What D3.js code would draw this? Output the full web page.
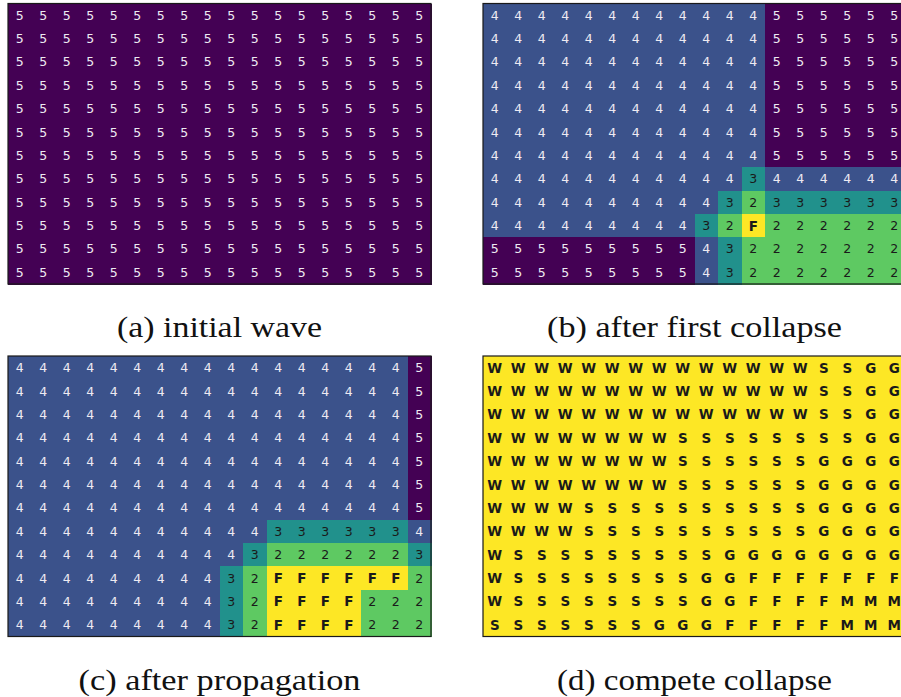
<!DOCTYPE html>
<html>
<head>
<meta charset="utf-8">
<script src="https://cdn.jsdelivr.net/npm/d3@7"></script>
<style>
  body { margin: 0; background: #fff; }
  svg { display: block; }
  .cap { font-family: "Liberation Serif", "Times New Roman", serif; fill: #111; }
</style>
</head>
<body>
<div id="chart"></div>
<script>
// wave states, one string per grid row (digits = entropy, letters = collapsed tile)
var gridInitial = [
  "555555555555555555", "555555555555555555", "555555555555555555",
  "555555555555555555", "555555555555555555", "555555555555555555",
  "555555555555555555", "555555555555555555", "555555555555555555",
  "555555555555555555", "555555555555555555", "555555555555555555"
];
var gridFirst = [
  "444444444444555555", "444444444444555555", "444444444444555555",
  "444444444444555555", "444444444444555555", "444444444444555555",
  "444444444444555555", "444444444443444444", "444444444432333333",
  "44444444432F222222", "555555555432222222", "555555555432222222"
];
var gridPropagated = [
  "444444444444444445", "444444444444444445", "444444444444444445",
  "444444444444444445", "444444444444444445", "444444444444444445",
  "444444444444444445", "444444444443333334", "444444444432222223",
  "44444444432FFFFFF2", "44444444432FFFF222", "44444444432FFFF222"
];
var gridComplete = [
  "WWWWWWWWWWWWWWSSGG", "WWWWWWWWWWWWWWSSGG", "WWWWWWWWWWWWWWSSGG",
  "WWWWWWWWSSSSSSSSGG", "WWWWWWWWSSSSSSGGGG", "WWWWWWWWSSSSSSGGGG",
  "WWWWSSSSSSSSSSGGGG", "WWWWSSSSSSSSSSGGGG", "WSSSSSSSSSGGGGGGGG",
  "WSSSSSSSSGGFFFFFFF", "WSSSSSSSSGGFFFFMMM", "SSSSSSSGGGFFFFFMMM"
];
var captions = ["(a) initial wave", "(b) after first collapse",
                "(c) after propagation", "(d) compete collapse"];

var W = 901, H = 697;
var panelW = 423, panelH = 280.5;
var panels = [
  {grid: gridInitial,    x: 8,   y: 3.5, capW: 205},
  {grid: gridFirst,      x: 483, y: 3.5, capW: 295},
  {grid: gridPropagated, x: 8,   y: 356, capW: 282},
  {grid: gridComplete,   x: 483, y: 356, capW: 275}
];

var svg = d3.select("#chart").append("svg")
    .attr("width", W)
    .attr("height", H);

// entropy colour: 5 -> dark purple, 1 (collapsed) -> yellow
var color = d3.scaleSequential(d3.interpolateViridis).domain([5, 1]);

function entropy(ch) {
  return /[0-9]/.test(ch) ? +ch : 1;
}

panels.forEach(function(p, k) {
  var cells = [];
  p.grid.forEach(function(row, r) {
    row.split("").forEach(function(ch, c) {
      cells.push({r: r, c: c, ch: ch, e: entropy(ch)});
    });
  });

  var x = d3.scaleBand().domain(d3.range(p.grid[0].length)).range([0, panelW]);
  var y = d3.scaleBand().domain(d3.range(p.grid.length)).range([0, panelH]);

  var g = svg.append("g")
      .attr("transform", "translate(" + p.x + "," + p.y + ")");

  g.selectAll("rect.cell")
    .data(cells)
    .enter().append("rect")
      .attr("class", "cell")
      .attr("x", function(d) { return x(d.c); })
      .attr("y", function(d) { return y(d.r); })
      .attr("width", x.bandwidth() + 0.5)
      .attr("height", y.bandwidth() + 0.5)
      .attr("shape-rendering", "crispEdges")
      .attr("fill", function(d) { return color(d.e); });

  g.selectAll("text.lbl")
    .data(cells)
    .enter().append("text")
      .attr("class", "lbl")
      .attr("x", function(d) { return x(d.c) + x.bandwidth() / 2; })
      .attr("y", function(d) { return y(d.r) + y.bandwidth() / 2; })
      .attr("text-anchor", "middle")
      .attr("dominant-baseline", "central")
      .style("font-family", "'DejaVu Sans', sans-serif")
      .style("font-size", function(d) { return d.e == 1 ? "13.5px" : "12.5px"; })
      .style("font-weight", function(d) { return d.e == 1 ? "bold" : "normal"; })
      .style("fill", function(d) { return d.e >= 4 ? "#eeeaf2" : "#1a1a1a"; })
      .text(function(d) { return d.ch; });

  // frame round the image
  g.append("rect")
    .attr("width", panelW)
    .attr("height", panelH)
    .attr("fill", "none")
    .attr("stroke", "#1a1a1a")
    .attr("stroke-width", 1.2);

  // subfigure caption
  svg.append("text")
    .attr("class", "cap")
    .attr("x", p.x + panelW / 2)
    .attr("y", p.y + 333.5)
    .attr("text-anchor", "middle")
    .attr("textLength", p.capW)
    .attr("lengthAdjust", "spacingAndGlyphs")
    .style("font-size", "30px")
    .text(captions[k]);
});
</script>
</body>
</html>
